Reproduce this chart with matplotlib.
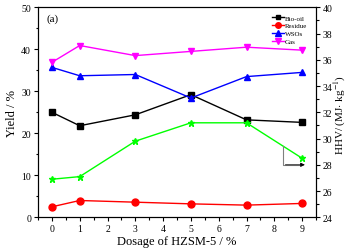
import matplotlib
matplotlib.use("Agg")
import matplotlib.pyplot as plt
from matplotlib.ticker import MultipleLocator

plt.rcParams['font.family'] = ['Liberation Serif', 'DejaVu Serif']
plt.rcParams['mathtext.fontset'] = 'stix'

dosage = [0, 1, 3, 5, 7, 9]
bio_oil = [25.0, 21.8, 24.4, 29.2, 23.2, 22.6]
residue = [2.5, 4.0, 3.6, 3.2, 2.9, 3.3]
wsos = [35.7, 33.7, 34.0, 28.4, 33.5, 34.5]
gas = [36.9, 40.9, 38.5, 39.5, 40.5, 39.8]
hhv = [26.9, 27.1, 29.8, 31.2, 31.2, 28.5]
xticks = [0, 1, 2, 3, 4, 5, 6, 7, 8, 9]

fig = plt.figure(figsize=(3.5, 2.51), dpi=100)
ax = fig.add_axes([38/350, 1-218.3/251, (316-38)/350, (218.3-8.3)/251])
ax2 = ax.twinx()

ax.plot(dosage, bio_oil, '-s', color='black', lw=1, ms=4, label='Bio-oil')
ax.plot(dosage, residue, '-o', color='red', lw=1, ms=5, label='Residue')
ax.plot(dosage, wsos, '-^', color='blue', lw=1, ms=5, label='WSOs')
ax.plot(dosage, gas, '-v', color='#ff00ff', lw=1, ms=5, label='Gas')
ax2.plot(dosage, hhv, '-*', color='#00ff00', lw=1, ms=5)

ax.set_xlim(-0.5, 9.5)
ax.set_ylim(0, 50)
ax2.set_ylim(24, 40)
ax.set_xticks(xticks)
ax.xaxis.set_minor_locator(MultipleLocator(0.5))
ax.yaxis.set_major_locator(MultipleLocator(10))
ax.yaxis.set_minor_locator(MultipleLocator(5))
ax2.yaxis.set_major_locator(MultipleLocator(2))
ax2.yaxis.set_minor_locator(MultipleLocator(1))

for a in (ax, ax2):
    a.tick_params(which='both', direction='out', labelsize=7, width=0.8, pad=2)
    a.tick_params(which='major', length=3)
    a.tick_params(which='minor', length=1.8)
    for s in a.spines.values():
        s.set_linewidth(0.8)

ax.set_xlabel('Dosage of HZSM-5 / %', fontsize=9, labelpad=1)
ax.set_ylabel('Yield / %', fontsize=9, labelpad=2)
ax2.set_ylabel(r'HHV/ (MJ$\cdot$ kg$^{-1}$)', fontsize=8, rotation=90, va='center')
ax2.yaxis.set_label_coords((340.5 - 38) / 278, 0.49)

ax.text(0.03, 0.97, '(a)', transform=ax.transAxes, ha='left', va='top', fontsize=8)

ax2.annotate('', xy=(9.2, 28.0), xytext=(8.3, 28.0),
             arrowprops=dict(arrowstyle='-|>', color='black', lw=0.6, mutation_scale=6))
ax2.plot([8.3, 8.3, 8.9], [29.45, 28.0, 28.0], color='gray', lw=0.8)

leg = ax.legend(loc='upper left', bbox_to_anchor=((271 - 38) / 278, 1 - 6 / 210),
                fontsize=5, frameon=False, handlelength=1.6,
                handletextpad=0.2, labelspacing=0.3, borderaxespad=0.0,
                borderpad=0.2, markerscale=0.8)

fig.savefig('out.png', dpi=100)
